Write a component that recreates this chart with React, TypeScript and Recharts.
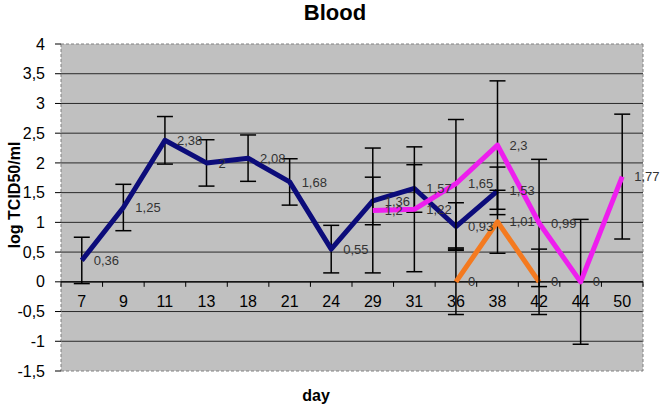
import React from 'react';
import { LineChart, Line, XAxis, YAxis, CartesianGrid, ErrorBar, LabelList, ReferenceLine } from 'recharts';

const days = ['7', '9', '11', '13', '18', '21', '24', '29', '31', '36', '38', '42', '44', '50'];
const blueValues = [0.36, 1.25, 2.38, 2, 2.08, 1.68, 0.55, 1.36, 1.57, 0.93, 1.53, null, null, null];
const blueErrors = [0.39, 0.39, 0.4, 0.39, 0.39, 0.39, 0.4, 0.4, 0.4, 0.4, 0.4, null, null, null];
const orangeValues = [null, null, null, null, null, null, null, null, null, 0, 1.01, 0, null, null];
const orangeErrors = [null, null, null, null, null, null, null, null, null, 0.55, 0.53, 0.55, null, null];
const magentaValues = [null, null, null, null, null, null, null, 1.2, 1.22, 1.65, 2.3, 0.99, 0, 1.77];
const magentaErrors = [null, null, null, null, null, null, null, 1.05, 1.05, 1.08, 1.08, 1.07, 1.05, 1.05];
const yTicks = [-1.5, -1, -0.5, 0, 0.5, 1, 1.5, 2, 2.5, 3, 3.5, 4];

const data = days.map((d, i) => ({
  day: d,
  blue: blueValues[i],
  blueErr: blueErrors[i],
  orange: orangeValues[i],
  orangeErr: orangeErrors[i],
  magenta: magentaValues[i],
  magentaErr: magentaErrors[i],
}));

const W = 663;
const H = 410;
const MARGIN = { top: 44, right: 20, bottom: 38, left: 0 };
const Y_AXIS_W = 61;
const X_AXIS_H = 1;
const PLOT_TOP = MARGIN.top;
const PLOT_H = H - MARGIN.top - MARGIN.bottom - X_AXIS_H;
const PLOT_W = W - MARGIN.right - Y_AXIS_W;
const BAND = PLOT_W / days.length;
const Y_MIN = -1.5;
const Y_MAX = 4;
const Y_ZERO = PLOT_TOP + (PLOT_H * Y_MAX) / (Y_MAX - Y_MIN);

const FONT = '"Liberation Sans", Arial, sans-serif';
const fmt = (v: any) => (v === null || v === undefined ? '' : String(v).replace('.', ','));

const XTick = (props: any) => {
  const { x, payload, index } = props;
  return (
    <g>
      <line x1={x - BAND / 2} x2={x - BAND / 2} y1={Y_ZERO} y2={Y_ZERO + 5} stroke="#000" strokeWidth={1} />
      {index === days.length - 1 && (
        <line x1={x + BAND / 2} x2={x + BAND / 2} y1={Y_ZERO} y2={Y_ZERO + 5} stroke="#000" strokeWidth={1} />
      )}
      <text x={x} y={Y_ZERO + 20} textAnchor="middle" dominantBaseline="central" fontSize={16} fill="#000" fontFamily={FONT}>
        {payload.value}
      </text>
    </g>
  );
};

const hLine = (p: any) => {
  const edge = Math.abs(p.y1 - PLOT_TOP) < 1 || Math.abs(p.y1 - (PLOT_TOP + PLOT_H)) < 1;
  return (
    <line
      key={`h-${p.index}`}
      x1={p.x1}
      x2={p.x2}
      y1={p.y1}
      y2={p.y2}
      stroke={edge ? '#808080' : '#2a2a2a'}
      strokeWidth={1}
      strokeDasharray={edge ? '3 2' : undefined}
    />
  );
};

const vLine = (p: any) => (
  <line key={`v-${p.index}`} x1={p.x1} x2={p.x2} y1={p.y1} y2={p.y2} stroke="#808080" strokeWidth={1} strokeDasharray="3 2" />
);

const labelStyle = { fontSize: 13, fill: '#333', fontFamily: FONT };

export default function App() {
  return (
    <div style={{ position: 'absolute', left: 0, top: 0, width: W, height: H, background: '#fff', fontFamily: FONT }}>
      <LineChart width={W} height={H} data={data} margin={MARGIN}>
        <CartesianGrid
          fill="#C0C0C0"
          fillOpacity={1}
          horizontal={hLine}
          vertical={vLine}
          verticalCoordinatesGenerator={({ offset }: any) => [offset.left, offset.left + offset.width]}
        />
        <XAxis
          dataKey="day"
          height={X_AXIS_H}
          padding={{ left: BAND / 2, right: BAND / 2 }}
          axisLine={false}
          tickLine={false}
          tick={<XTick />}
          interval={0}
        />
        <YAxis
          width={Y_AXIS_W}
          domain={[Y_MIN, Y_MAX]}
          ticks={yTicks}
          allowDataOverflow
          axisLine={false}
          tickLine={{ stroke: '#000' }}
          tickSize={6}
          tickMargin={10}
          tickFormatter={fmt}
          tick={{ fontSize: 16, fill: '#000', fontFamily: FONT }}
          interval={0}
        />
        <ReferenceLine y={0} stroke="#000" strokeWidth={1.3} />
        <Line
          dataKey="blue"
          stroke="#0C0C7A"
          strokeWidth={5}
          strokeLinejoin="round"
          dot={false}
          isAnimationActive={false}
        >
          <ErrorBar dataKey="blueErr" width={8} stroke="#000" strokeWidth={1.5} direction="y" />
          <LabelList dataKey="blue" position="right" offset={12} formatter={fmt} style={labelStyle} />
        </Line>
        <Line
          dataKey="orange"
          stroke="#F47A20"
          strokeWidth={5}
          strokeLinejoin="round"
          dot={false}
          isAnimationActive={false}
        >
          <ErrorBar dataKey="orangeErr" width={8} stroke="#000" strokeWidth={1.5} direction="y" />
          <LabelList dataKey="orange" position="right" offset={12} formatter={fmt} style={labelStyle} />
        </Line>
        <Line
          dataKey="magenta"
          stroke="#EE1EEE"
          strokeWidth={5}
          strokeLinejoin="round"
          dot={false}
          isAnimationActive={false}
        >
          <ErrorBar dataKey="magentaErr" width={8} stroke="#000" strokeWidth={1.5} direction="y" />
          <LabelList dataKey="magenta" position="right" offset={12} formatter={fmt} style={labelStyle} />
        </Line>
      </LineChart>
      <div style={{ position: 'absolute', left: 235, top: 0, width: 200, textAlign: 'center', fontSize: 22, fontWeight: 'bold', lineHeight: '26px' }}>
        Blood
      </div>
      <div style={{ position: 'absolute', left: 216, top: 386, width: 200, textAlign: 'center', fontSize: 16, fontWeight: 'bold', lineHeight: '20px' }}>
        day
      </div>
      <div
        style={{
          position: 'absolute',
          left: 15 - 100,
          top: 195 - 10,
          width: 200,
          textAlign: 'center',
          fontSize: 16,
          fontWeight: 'bold',
          lineHeight: '20px',
          transform: 'rotate(-90deg)',
        }}
      >
        log TCID50/ml
      </div>
    </div>
  );
}
